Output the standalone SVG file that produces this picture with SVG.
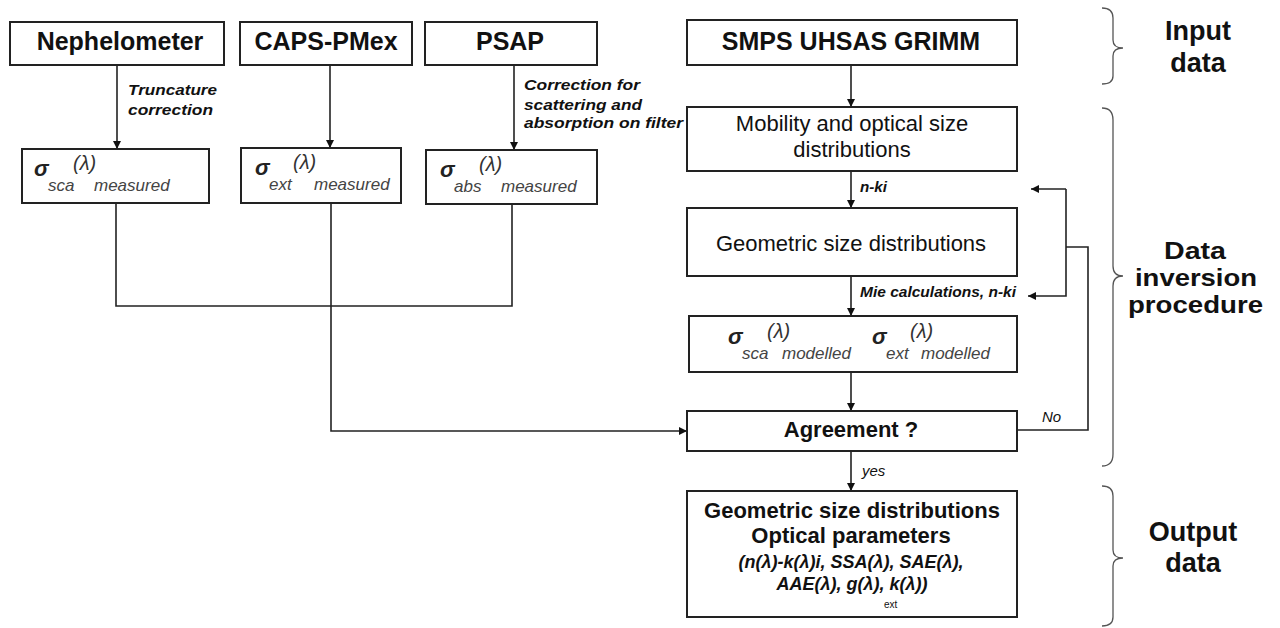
<svg xmlns="http://www.w3.org/2000/svg" width="1280" height="628" viewBox="0 0 1280 628">
<defs>
<marker id="arr" viewBox="0 0 10 10" refX="10" refY="5" markerWidth="9" markerHeight="8" markerUnits="userSpaceOnUse" orient="auto">
<path d="M0,0 L10,5 L0,10 z" fill="#111"/>
</marker>
<style>
.box{fill:#fff;stroke:#222;stroke-width:2}
.ln{fill:none;stroke:#222;stroke-width:1.6}
.br{fill:none;stroke:#555;stroke-width:1.3}
.t{font-family:"Liberation Sans",Arial,sans-serif;fill:#111}
.title{font-size:25px;font-weight:bold;text-anchor:middle}
.reg{font-size:22px;text-anchor:middle}
.bold22{font-size:22px;font-weight:bold;text-anchor:middle}
.ann{font-size:15px;font-weight:bold;font-style:italic}
.sig{font-size:22px;font-style:italic;font-weight:bold;fill:#222}
.lam{font-size:20px;font-style:italic;fill:#333}
.sub{font-size:17px;font-style:italic;fill:#444}
.side{font-size:27px;font-weight:bold;text-anchor:middle}
.side2{font-size:24.5px;font-weight:bold}
.bi{font-size:18px;font-weight:bold;font-style:italic;text-anchor:middle}
</style>
</defs>
<rect width="1280" height="628" fill="#fff"/>

<g id="connectors">
<line class="ln" x1="117" y1="65" x2="117" y2="149" marker-end="url(#arr)"/>
<line class="ln" x1="330" y1="65" x2="330" y2="148" marker-end="url(#arr)"/>
<line class="ln" x1="514" y1="65" x2="514" y2="150" marker-end="url(#arr)"/>
<line class="ln" x1="851" y1="65" x2="851" y2="107" marker-end="url(#arr)"/>
<polyline class="ln" points="116,203 116,306 512,306 512,204"/>
<polyline class="ln" points="331,203 331,431 687,431" marker-end="url(#arr)"/>
<line class="ln" x1="851" y1="171" x2="851" y2="208" marker-end="url(#arr)"/>
<line class="ln" x1="851" y1="276" x2="851" y2="316" marker-end="url(#arr)"/>
<line class="ln" x1="851" y1="372" x2="851" y2="411" marker-end="url(#arr)"/>
<line class="ln" x1="851" y1="451" x2="851" y2="491" marker-end="url(#arr)"/>
<polyline class="ln" points="1017,430 1088,430 1088,247 1066,247"/>
<polyline class="ln" points="1066,189 1031,189" marker-end="url(#arr)"/>
<polyline class="ln" points="1066,189 1066,296 1028,296" marker-end="url(#arr)"/>
<text class="t ann" x="128" y="95" textLength="89" lengthAdjust="spacingAndGlyphs">Truncature</text>
<text class="t ann" x="128" y="115" textLength="85" lengthAdjust="spacingAndGlyphs">correction</text>
<text class="t ann" x="524" y="90" textLength="116" lengthAdjust="spacingAndGlyphs">Correction for</text>
<text class="t ann" x="524" y="110" textLength="118" lengthAdjust="spacingAndGlyphs">scattering and</text>
<text class="t ann" x="524" y="128" textLength="159" lengthAdjust="spacingAndGlyphs">absorption on filter</text>
<text class="t ann" x="860" y="192" textLength="27" lengthAdjust="spacingAndGlyphs">n-ki</text>
<text class="t ann" x="860" y="297" textLength="156" lengthAdjust="spacingAndGlyphs">Mie calculations, n-ki</text>
<text class="t" x="1042" y="422" font-size="15" font-style="italic">No</text>
<text class="t" x="862" y="476" font-size="15" font-style="italic">yes</text>
</g>

<g id="nephelometer">
<rect class="box" x="10" y="22" width="214" height="43"/>
<text class="t title" x="120" y="50">Nephelometer</text>
</g>
<g id="caps">
<rect class="box" x="240" y="22" width="172" height="43"/>
<text class="t title" x="326" y="50">CAPS-PMex</text>
</g>
<g id="psap">
<rect class="box" x="425" y="22" width="172" height="43"/>
<text class="t title" x="510" y="50">PSAP</text>
</g>
<g id="smps">
<rect class="box" x="687" y="20" width="330" height="45"/>
<text class="t title" x="851" y="50">SMPS UHSAS GRIMM</text>
</g>

<g id="sigma-sca">
<rect class="box" x="22" y="149" width="187" height="54"/>
<text class="t sig" x="34" y="176">σ</text>
<text class="t sub" x="48" y="191">sca</text>
<text class="t lam" x="73" y="170">(λ)</text>
<text class="t sub" x="94" y="191">measured</text>
</g>
<g id="sigma-ext">
<rect class="box" x="241" y="148" width="160" height="55"/>
<text class="t sig" x="255" y="175">σ</text>
<text class="t sub" x="269" y="190">ext</text>
<text class="t lam" x="293" y="169">(λ)</text>
<text class="t sub" x="314" y="190">measured</text>
</g>
<g id="sigma-abs">
<rect class="box" x="426" y="150" width="171" height="54"/>
<text class="t sig" x="440" y="177">σ</text>
<text class="t sub" x="454" y="192">abs</text>
<text class="t lam" x="479" y="171">(λ)</text>
<text class="t sub" x="501" y="192">measured</text>
</g>

<g id="mobility">
<rect class="box" x="687" y="107" width="330" height="64"/>
<text class="t reg" x="852" y="131">Mobility and optical size</text>
<text class="t reg" x="852" y="157">distributions</text>
</g>
<g id="geometric">
<rect class="box" x="687" y="208" width="330" height="68"/>
<text class="t reg" x="851" y="251">Geometric size distributions</text>
</g>
<g id="modelled">
<rect class="box" x="689" y="316" width="328" height="56"/>
<text class="t sig" x="728" y="344">σ</text>
<text class="t sub" x="742" y="359">sca</text>
<text class="t lam" x="767" y="338">(λ)</text>
<text class="t sub" x="782" y="359">modelled</text>
<text class="t sig" x="872" y="344">σ</text>
<text class="t sub" x="886" y="359">ext</text>
<text class="t lam" x="910" y="338">(λ)</text>
<text class="t sub" x="921" y="359">modelled</text>
</g>
<g id="agreement">
<rect class="box" x="687" y="411" width="330" height="40"/>
<text class="t bold22" x="851" y="437">Agreement ?</text>
</g>
<g id="output">
<rect class="box" x="687" y="491" width="330" height="126"/>
<text class="t bold22" x="852" y="518">Geometric size distributions</text>
<text class="t bold22" x="851" y="543">Optical parameters</text>
<text class="t bi" x="851" y="568">(n(λ)-k(λ)i, SSA(λ), SAE(λ),</text>
<text class="t bi" x="852" y="590">AAE(λ), g(λ), k(λ))</text>
<text class="t" x="884" y="608" font-size="10">ext</text>
</g>

<g id="input-label">
<path class="br" d="M1102,8 Q1113,8 1113,18 L1113,40 Q1113,48 1123,48 Q1113,48 1113,56 L1113,76 Q1113,84 1102,84"/>
<text class="t side" x="1198" y="40">Input</text>
<text class="t side" x="1198" y="72">data</text>
</g>
<g id="inversion-label">
<path class="br" d="M1102,108 Q1113,108 1113,120 L1113,266 Q1113,276 1123,276 Q1113,276 1113,286 L1113,454 Q1113,466 1102,466"/>
<text class="t side2" x="1164" y="259" textLength="62" lengthAdjust="spacingAndGlyphs">Data</text>
<text class="t side2" x="1135" y="286" textLength="122" lengthAdjust="spacingAndGlyphs">inversion</text>
<text class="t side2" x="1128" y="313" textLength="135" lengthAdjust="spacingAndGlyphs">procedure</text>
</g>
<g id="output-label">
<path class="br" d="M1102,486 Q1113,486 1113,496 L1113,550 Q1113,558 1123,558 Q1113,558 1113,566 L1113,617 Q1113,626 1102,626"/>
<text class="t side" x="1193" y="541">Output</text>
<text class="t side" x="1193" y="572">data</text>
</g>
</svg>
